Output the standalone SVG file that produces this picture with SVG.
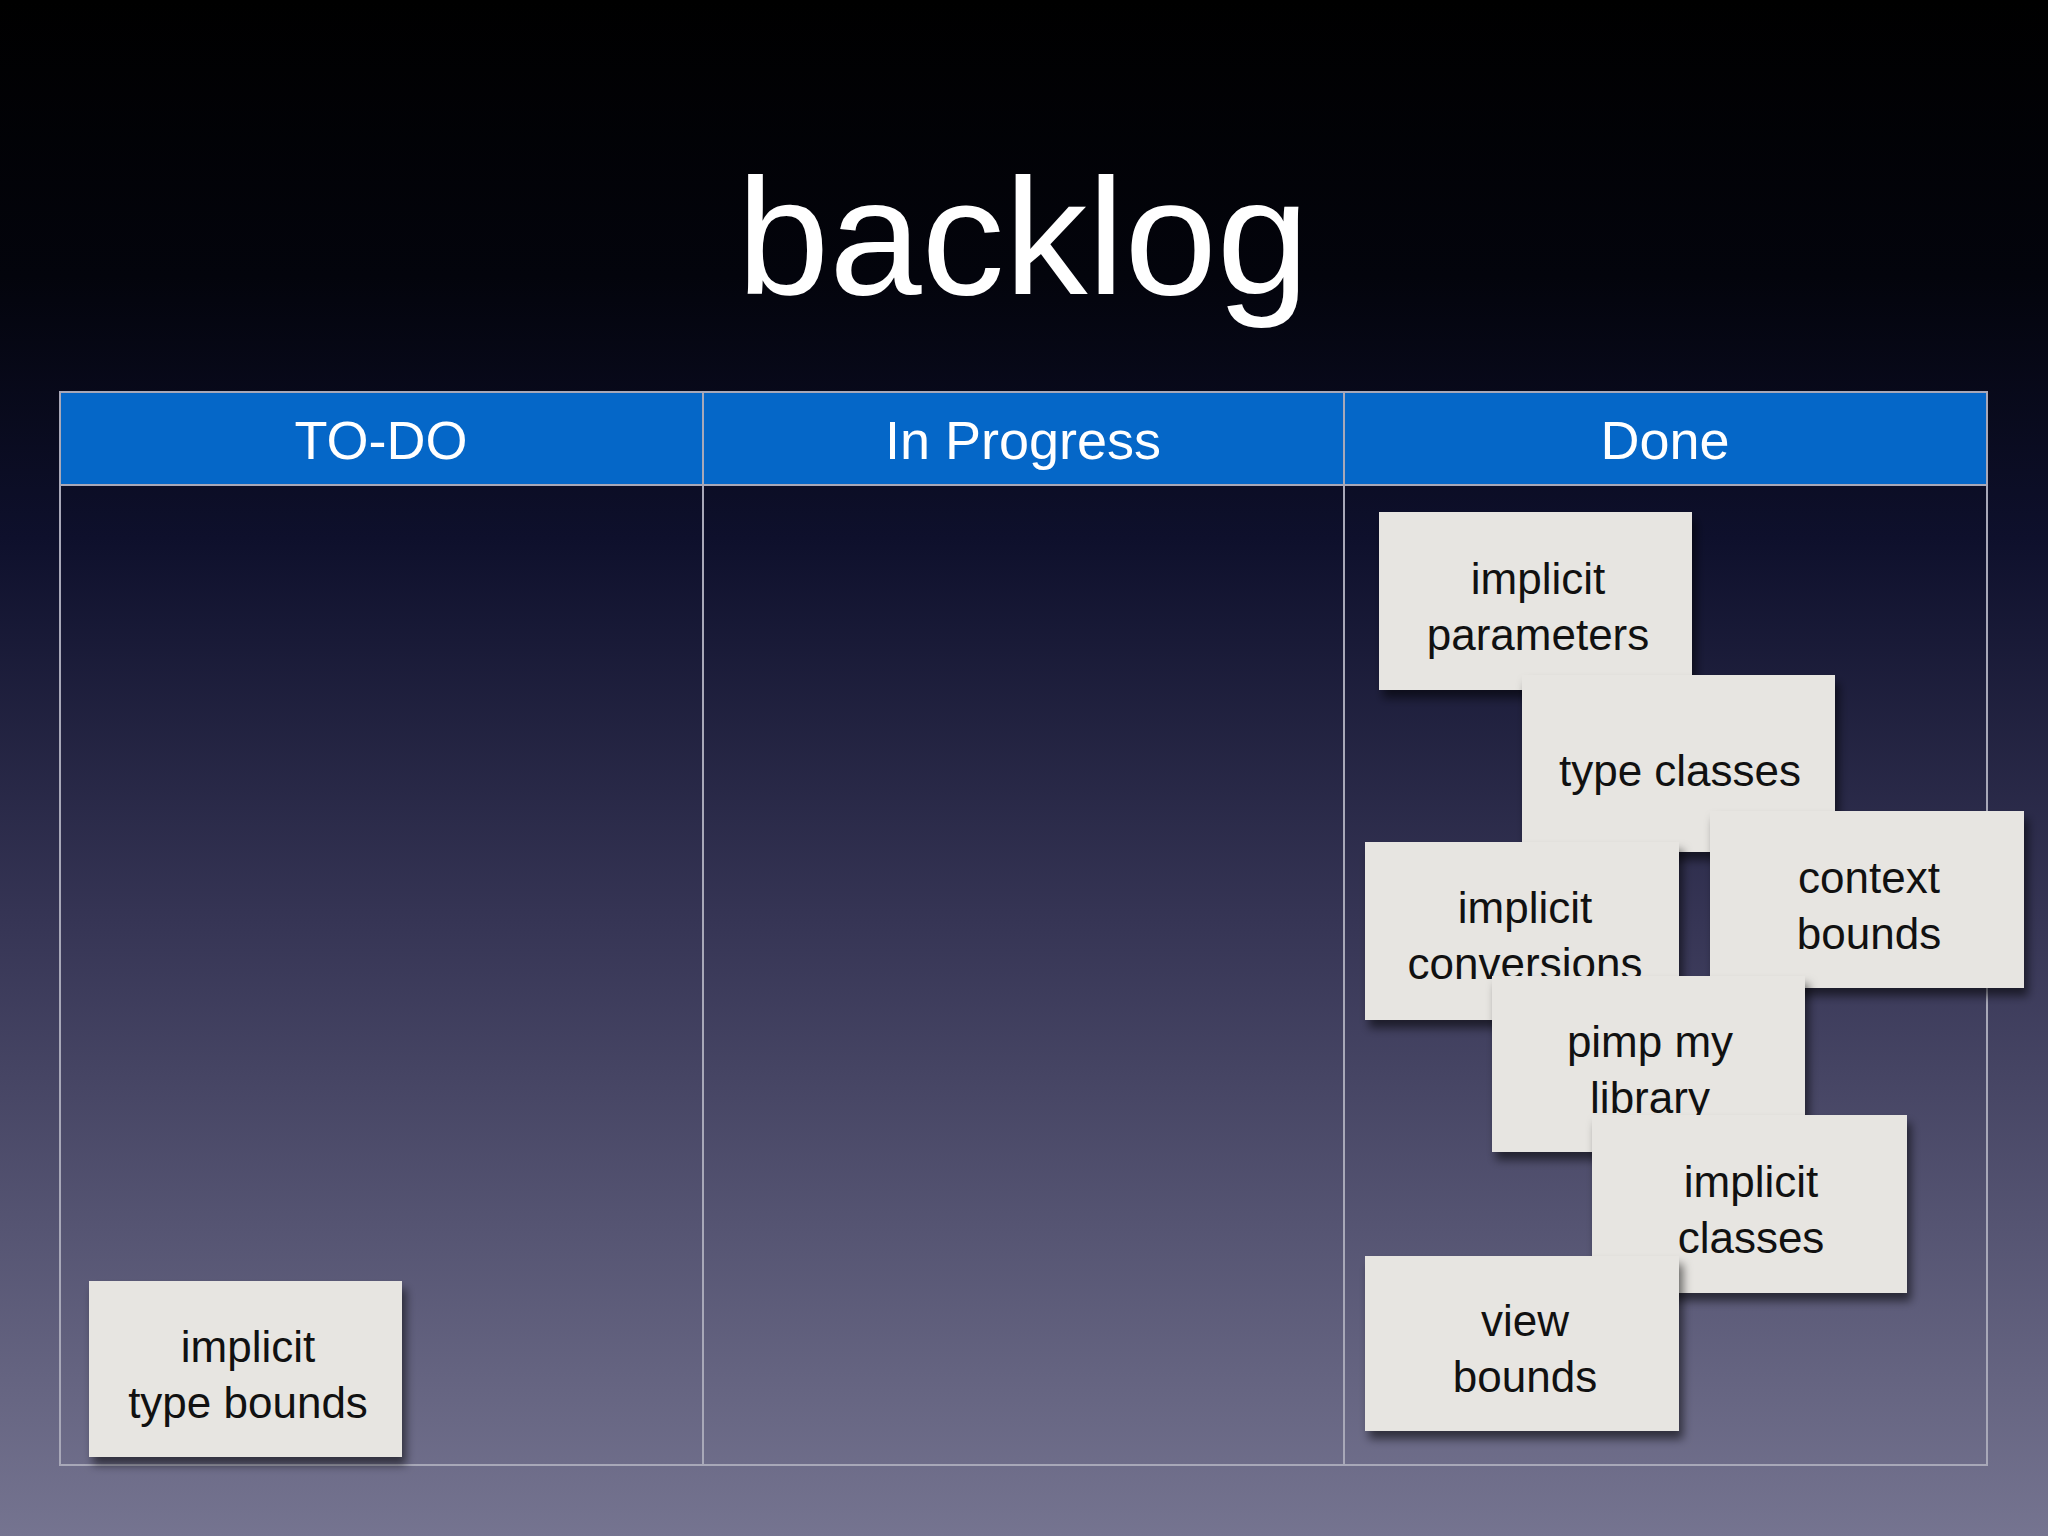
<svg xmlns="http://www.w3.org/2000/svg" width="2048" height="1536" viewBox="0 0 2048 1536">
<defs>
<linearGradient id="bg" x1="0" y1="0" x2="0" y2="1">
<stop offset="0" stop-color="#000000"/>
<stop offset="0.18" stop-color="#03040c"/>
<stop offset="0.35" stop-color="#0e102c"/>
<stop offset="0.6" stop-color="#363555"/>
<stop offset="1" stop-color="#757490"/>
</linearGradient>
<filter id="sh" x="-10%" y="-10%" width="130%" height="140%">
<feDropShadow dx="4" dy="8" stdDeviation="5" flood-color="#000" flood-opacity="0.55"/>
</filter>
<style>
.card rect{fill:#e7e5e1;filter:url(#sh)}
.card text{font-family:"Liberation Sans",Arial,sans-serif;font-size:44px;fill:#111;text-anchor:middle}
.hd{font-family:"Liberation Sans",Arial,sans-serif;font-size:54px;fill:#fff;text-anchor:middle}
.ln{stroke:#a8a8b8;stroke-width:2;fill:none}
</style>
</defs>
<rect width="2048" height="1536" fill="url(#bg)"/>
<text x="1023" y="294" font-family="'Liberation Sans',Arial,sans-serif" font-size="166" fill="#fff" text-anchor="middle">backlog</text>
<g id="table">
<rect x="60" y="392" width="1927" height="93" fill="#0567c8"/>
<rect class="ln" x="60" y="392" width="1927" height="1073"/>
<line class="ln" x1="60" y1="485" x2="1987" y2="485"/>
<line class="ln" x1="703" y1="392" x2="703" y2="1465"/>
<line class="ln" x1="1344" y1="392" x2="1344" y2="1465"/>
<text class="hd" x="381" y="459">TO-DO</text>
<text class="hd" x="1023" y="459">In Progress</text>
<text class="hd" x="1665" y="459">Done</text>
</g>
<g id="connectors"/>
<g id="n1" class="card"><rect x="1379" y="512" width="313" height="178"/><text x="1538" y="594">implicit</text><text x="1538" y="650">parameters</text></g>
<g id="n2" class="card"><rect x="1522" y="675" width="313" height="177"/><text x="1680" y="786">type classes</text></g>
<g id="n3" class="card"><rect x="1365" y="842" width="314" height="178"/><text x="1525" y="923">implicit</text><text x="1525" y="979">conversions</text></g>
<g id="n4" class="card"><rect x="1710" y="811" width="314" height="177"/><text x="1869" y="893">context</text><text x="1869" y="949">bounds</text></g>
<g id="n5" class="card"><rect x="1492" y="976" width="313" height="176"/><text x="1650" y="1057">pimp my</text><text x="1650" y="1113">library</text></g>
<g id="n6" class="card"><rect x="1592" y="1115" width="315" height="178"/><text x="1751" y="1197">implicit</text><text x="1751" y="1253">classes</text></g>
<g id="n7" class="card"><rect x="1365" y="1256" width="314" height="175"/><text x="1525" y="1336">view</text><text x="1525" y="1392">bounds</text></g>
<g id="n8" class="card"><rect x="89" y="1281" width="313" height="176"/><text x="248" y="1362">implicit</text><text x="248" y="1418">type bounds</text></g>
</svg>
